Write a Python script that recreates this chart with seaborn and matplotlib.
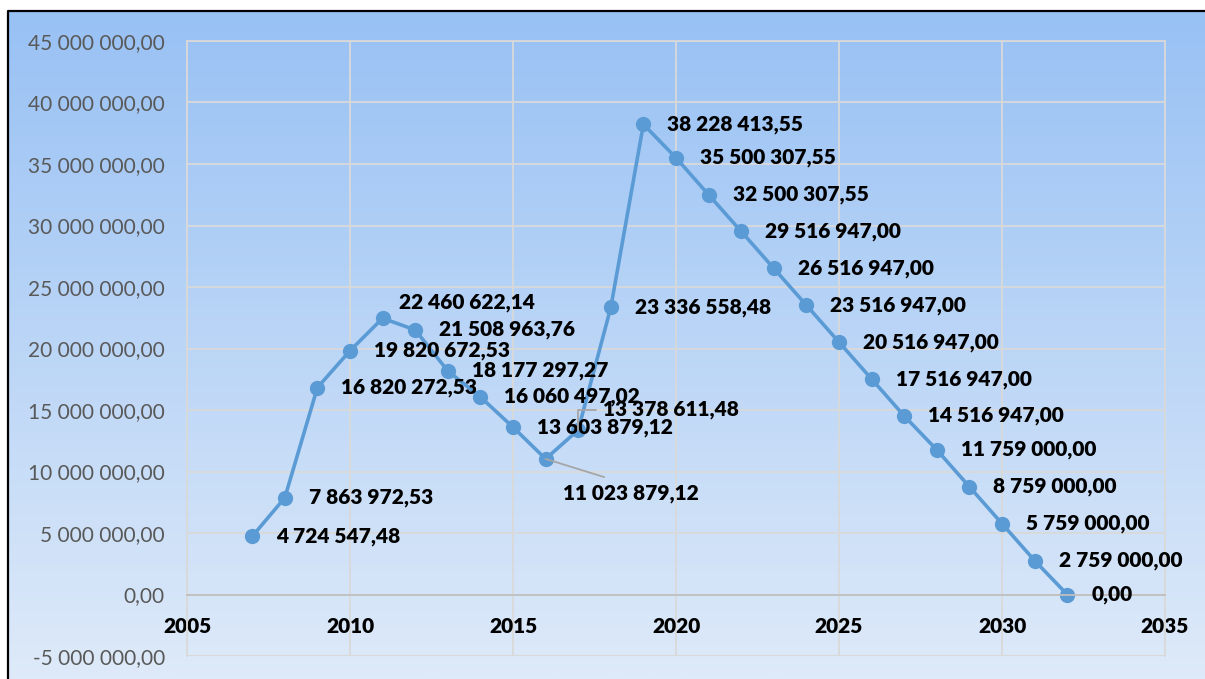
import numpy as np
import pandas as pd
import matplotlib
matplotlib.use("Agg")
import matplotlib.pyplot as plt
from matplotlib.lines import Line2D
from matplotlib.ticker import FuncFormatter, MultipleLocator
import seaborn as sns

# ---- data ----
years = [2007, 2008, 2009, 2010, 2011, 2012, 2013, 2014, 2015, 2016, 2017, 2018, 2019,
         2020, 2021, 2022, 2023, 2024, 2025, 2026, 2027, 2028, 2029, 2030, 2031, 2032]
values = [4724547.48, 7863972.53, 16820272.53, 19820672.53, 22460622.14, 21508963.76,
          18177297.27, 16060497.02, 13603879.12, 11023879.12, 13378611.48, 23336558.48,
          38228413.55, 35500307.55, 32500307.55, 29516947.00, 26516947.00, 23516947.00,
          20516947.00, 17516947.00, 14516947.00, 11759000.00, 8759000.00, 5759000.00,
          2759000.00, 0.00]

df = pd.DataFrame({"year": years, "value": values})

# label layout tweaks (offsets in pixels: dx, dy with +dy = up)
label_offsets = {2011: (16, 16), 2016: (17, -35), 2017: (25, 20)}
leader_style = {2016: "arc3,rad=0", 2017: "angle,angleA=0,angleB=90,rad=0"}
leader_relpos = {2016: (0.48, 1.0), 2017: (0.0, 0.5)}


def fmt(v, pos=None):
    s = f"{v:,.2f}"
    return s.replace(",", " ").replace(".", ",")


sns.set_style("white")
plt.rcParams["font.family"] = ["Lato", "DejaVu Sans"]

W, H = 1205, 679
fig = plt.figure(figsize=(W / 100, H / 100), dpi=100)
fig.patch.set_facecolor("white")

# gradient background inside the chart frame
bg = fig.add_axes([8 / W, 0, 1 - 8 / W, 1 - 11 / H], zorder=-5)
top = np.array([152, 193, 244]) / 255
bot = np.array([222, 234, 249]) / 255
t = np.linspace(0, 1, 256)[:, None]
grad = (top[None, :] * (1 - t) + bot[None, :] * t)[:, None, :]
bg.imshow(grad, aspect="auto", extent=[0, 1, 0, 1])
bg.set_axis_off()

# frame line (left and top visible)
fig.add_artist(Line2D([8 / W, 8 / W, 1.01], [-0.01, 1 - 11 / H, 1 - 11 / H],
                      transform=fig.transFigure, color="black", lw=1.6))

ax = fig.add_axes([187 / W, 1 - 656 / H, (1165 - 187) / W, (656 - 41) / H])
ax.set_facecolor("none")

blue = "#5B9BD5"
sns.lineplot(data=df, x="year", y="value", ax=ax, color=blue, lw=2.6,
             marker="o", markersize=11, markeredgewidth=0, markerfacecolor=blue)

ax.set_xlim(2005, 2035)
ax.set_ylim(-5_000_000, 45_000_000)
ax.xaxis.set_major_locator(MultipleLocator(5))
ax.yaxis.set_major_locator(MultipleLocator(5_000_000))
ax.yaxis.set_major_formatter(FuncFormatter(fmt))
ax.grid(True, color="#D9D9D9", lw=1.3)
ax.set_axisbelow(True)
ax.set_xlabel("")
ax.set_ylabel("")

for side in ["top", "left", "right"]:
    ax.spines[side].set_color("#D9D9D9")
    ax.spines[side].set_linewidth(1.3)
ax.spines["bottom"].set_position(("data", 0))
ax.spines["bottom"].set_color("#BFBFBF")
ax.spines["bottom"].set_linewidth(1.3)
ax.axhline(-5_000_000, color="#D9D9D9", lw=1.3, zorder=0.5)

ax.tick_params(axis="both", length=0)
ax.tick_params(axis="y", labelsize=15, labelcolor="#595959", pad=16)
ax.tick_params(axis="x", labelsize=15, labelcolor="black", pad=16)
for lab in ax.get_xticklabels():
    lab.set_fontweight("heavy")

px = 0.72
for yr, v in zip(years, values):
    dx, dy = label_offsets.get(yr, (24, 0))
    kw = {}
    if yr in leader_style:
        kw["arrowprops"] = dict(arrowstyle="-", color="#A6A6A6", lw=1.3,
                                shrinkA=0, shrinkB=0,
                                connectionstyle=leader_style[yr],
                                relpos=leader_relpos[yr])
    ax.annotate(fmt(v), xy=(yr, v), xytext=(dx * px, dy * px),
                textcoords="offset points", ha="left", va="center",
                fontsize=15, fontweight="heavy", color="black",
                bbox=dict(boxstyle="square,pad=0.35", fc="none", ec="none"),
                zorder=4, **kw)

fig.savefig("out.png", dpi=100)
